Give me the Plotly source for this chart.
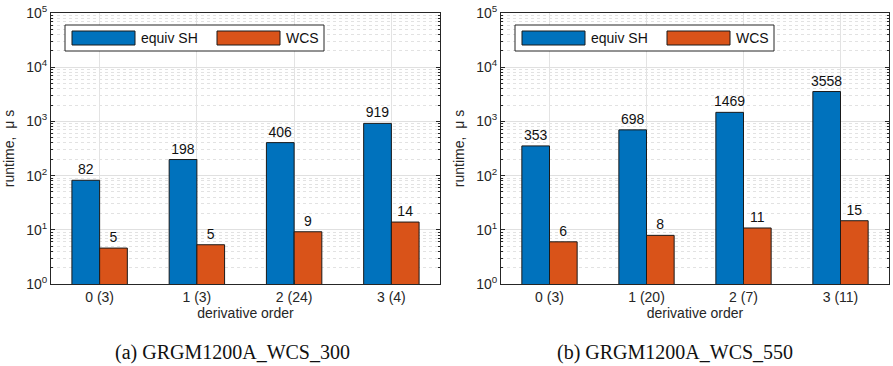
import plotly.graph_objects as go

categories_a = ["0 (3)", "1 (3)", "2 (24)", "3 (4)"]
sh_a = [82, 198, 406, 919]
wcs_a = [4.6, 5.3, 9.2, 13.9]

categories_b = ["0 (3)", "1 (20)", "2 (7)", "3 (11)"]
sh_b = [353, 698, 1469, 3558]
wcs_b = [6.0, 7.9, 10.8, 14.7]

series_names = ["equiv SH", "WCS"]
captions = ["(a) GRGM1200A_WCS_300", "(b) GRGM1200A_WCS_550"]
decades = [0, 1, 2, 3, 4, 5]

BLUE = "#0072BD"
ORANGE = "#D95319"
AX = "#262626"
FONT = "Liberation Sans"
FS = 14

W, H = 893, 366
panels = [
    dict(x0=51, x1=440, cats=categories_a, sh=sh_a, wcs=wcs_a, xa="x", ya="y", cap=232),
    dict(x0=501, x1=889, cats=categories_b, sh=sh_b, wcs=wcs_b, xa="x2", ya="y2", cap=675),
]
ytop, ybot = 13, 284

fig = go.Figure()
shapes = []
annotations = []
minor_vals = [m * 10 ** d for d in decades[:-1] for m in range(2, 10)]

for i, p in enumerate(panels):
    for name, vals, col in [(series_names[0], p["sh"], BLUE), (series_names[1], p["wcs"], ORANGE)]:
        fig.add_trace(go.Bar(
            x=p["cats"], y=vals, name=name, marker=dict(color=col, line=dict(color="#1a1a1a", width=1)),
            text=[f"{round(v)}" for v in vals], textposition="outside", constraintext="none",
            textfont=dict(family=FONT, size=FS, color="#111"),
            cliponaxis=False, showlegend=False,
            xaxis=p["xa"], yaxis=p["ya"],
        ))
    xkey = "xaxis" if i == 0 else "xaxis2"
    ykey = "yaxis" if i == 0 else "yaxis2"
    dom = [p["x0"] / W, p["x1"] / W]
    fig.update_layout(**{
        xkey: dict(
            domain=dom, anchor=p["ya"], type="category", range=[-0.5, 3.5],
            showline=True, linecolor=AX, linewidth=1, mirror=True,
            ticks="inside", ticklen=4, tickcolor=AX, ticklabelstandoff=0,
            showgrid=True, gridcolor="#e3e3e3", gridwidth=1,
            tickfont=dict(family=FONT, size=FS, color=AX),
            title=dict(text="derivative order", font=dict(family=FONT, size=FS, color=AX), standoff=2),
            fixedrange=True, automargin=False,
        ),
        ykey: dict(
            domain=[1 - ybot / H, 1 - ytop / H], anchor=p["xa"], type="log", range=[0, 5],
            showline=True, linecolor=AX, linewidth=1, mirror="ticks",
            ticks="inside", ticklen=4, tickcolor=AX,
            tickvals=[10 ** d for d in decades],
            ticktext=[f"10<sup>{d}</sup>" for d in decades],
            showgrid=True, gridcolor="#e0e0e0", gridwidth=1,
            minor=dict(tickvals=minor_vals, ticks="inside", ticklen=2, tickcolor=AX,
                       showgrid=True, gridcolor="#e2e2e2", griddash="dot", gridwidth=1),
            tickfont=dict(family=FONT, size=FS, color=AX),
            title=dict(text="runtime,  \u03bc s", font=dict(family=FONT, size=FS, color=AX), standoff=8),
            zeroline=False, fixedrange=True, automargin=False,
        ),
    })
    # legend (drawn manually in axis-domain coordinates)
    pw = p["x1"] - p["x0"]
    ph = ybot - ytop
    def fx(px):
        return (px - p["x0"]) / pw
    def fy(py):
        return 1 - (py - ytop) / ph
    dref = dict(xref=f"{p['xa']} domain", yref=f"{p['ya']} domain")
    shapes.append(dict(type="rect", x0=fx(p["x0"] + 14), x1=fx(p["x0"] + 273), y0=fy(51), y1=fy(25),
                       line=dict(color=AX, width=1), fillcolor="white", layer="above", **dref))
    for j, (col, sx, tx) in enumerate([(BLUE, 21, 88), (ORANGE, 166, 233)]):
        shapes.append(dict(type="rect", x0=fx(p["x0"] + sx), x1=fx(p["x0"] + sx + 63), y0=fy(45), y1=fy(31),
                           line=dict(color="#1a1a1a", width=1), fillcolor=col, layer="above", **dref))
        annotations.append(dict(text=series_names[j], x=fx(p["x0"] + tx), y=fy(38), xanchor="left", yanchor="middle",
                                showarrow=False, font=dict(family=FONT, size=FS, color="#111"), **dref))
    annotations.append(dict(text=captions[i], x=p["cap"] / W,
                            y=1 - 352 / H, xref="paper", yref="paper", xanchor="center", yanchor="middle",
                            showarrow=False, font=dict(family="Liberation Serif", size=20, color="#111")))

fig.update_layout(
    width=W, height=H, margin=dict(l=0, r=0, t=0, b=0, autoexpand=False),
    paper_bgcolor="white", plot_bgcolor="white",
    barmode="group", bargap=0.43, bargroupgap=0,
    shapes=shapes, annotations=annotations, showlegend=False,
)
fig.write_html("out.html")
